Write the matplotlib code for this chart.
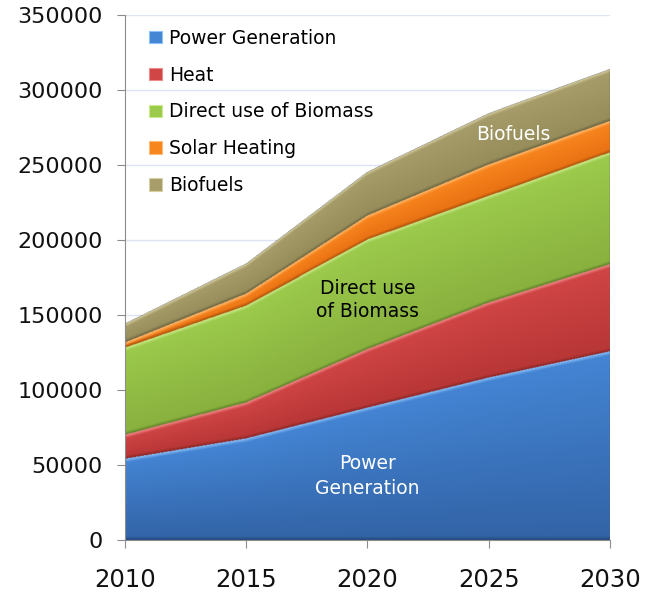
import numpy as np
import matplotlib
matplotlib.use("Agg")
import matplotlib.pyplot as plt
from matplotlib.patches import Patch
from matplotlib.colors import to_rgb

# data (stacked values)
years = [2010, 2015, 2020, 2025, 2030]
power = [54000, 67500, 88000, 108000, 125500]
heat = [16000, 24000, 39000, 50000, 58000]
direct = [58000, 64500, 73000, 71000, 74500]
solar = [3500, 8000, 16000, 21000, 21000]
biofuels = [12500, 20000, 29000, 34000, 34500]

labels = ["Power Generation", "Heat", "Direct use of Biomass",
          "Solar Heating", "Biofuels"]
series = [power, heat, direct, solar, biofuels]
top_cols = ["#4485d4", "#d04545", "#9ccb4c", "#f8861e", "#a69d6a"]
bot_cols = ["#3263a6", "#b83636", "#88b03e", "#e87012", "#958c5a"]
light_cols = ["#8cc0f8", "#f08a8a", "#cdeb8e", "#ffbb70", "#d8cfa2"]
dark_cols = ["#254a80", "#8a2626", "#5f7f28", "#a9520a", "#6a6340"]

fig = plt.figure(figsize=(6.46, 5.99), dpi=100)
ax = fig.add_axes([0.1935, 0.0985, 0.7505, 0.8765])

x = np.array(years, dtype=float)
stack = np.cumsum(np.array(series, dtype=float), axis=0)
lows = np.vstack([np.zeros(len(years)), stack[:-1]])

# shaded raster of the stacked bands (bevel look)
nx, ny = 800, 800
gx = np.linspace(2010, 2030, nx)
gy = np.linspace(0, 350000, ny)
X, Y = np.meshgrid(gx, gy)
img = np.zeros((ny, nx, 4))
edge = 2600.0
for i in range(len(series)):
    lo = np.interp(gx, x, lows[i])[None, :]
    hi = np.interp(gx, x, stack[i])[None, :]
    inside = (Y >= lo) & (Y < hi)
    t = np.clip((Y - lo) / (hi - lo), 0, 1)
    c = (np.array(to_rgb(bot_cols[i]))[None, None, :] * (1 - t[..., None])
         + np.array(to_rgb(top_cols[i]))[None, None, :] * t[..., None])
    dt = np.clip((hi - Y) / edge, 0, 1)[..., None]
    c = c * dt + np.array(to_rgb(light_cols[i])) * (1 - dt)
    db = np.clip((Y - lo) / (edge * 0.9), 0, 1)[..., None]
    c = c * db + np.array(to_rgb(dark_cols[i])) * (1 - db)
    img[inside, :3] = c[inside]
    img[inside, 3] = 1.0
ax.imshow(img, origin="lower", extent=[2010, 2030, 0, 350000],
          aspect="auto", interpolation="bilinear", zorder=2)

# right edge
ax.plot([2030, 2030], [0, stack[-1][-1]], color="#666666", lw=1.0, zorder=4)

ax.set_xlim(2010, 2030)
ax.set_ylim(0, 350000)
ax.set_xticks(years)
ax.set_yticks(np.arange(0, 350001, 50000))
ax.set_yticklabels([str(v) for v in range(0, 350001, 50000)])
ax.grid(axis="y", color="#dde3f3", lw=1.0, zorder=0)
ax.set_axisbelow(True)

for s in ["top", "right"]:
    ax.spines[s].set_visible(False)
for s in ["left", "bottom"]:
    ax.spines[s].set_color("#8c8c8c")
ax.tick_params(axis="y", direction="out", length=6, color="#8c8c8c",
               labelsize=16, pad=10, labelcolor="#111111")
ax.tick_params(axis="x", direction="out", length=6, color="#8c8c8c",
               labelsize=17.5, pad=14, labelcolor="#111111")

handles = [Patch(facecolor=c, edgecolor=lc, lw=0.8)
           for c, lc in zip(top_cols, light_cols)]
ax.legend(handles, labels, loc="upper left", bbox_to_anchor=(0.035, 0.988),
          frameon=False, fontsize=13.5, handlelength=0.65, handleheight=0.65,
          handletextpad=0.4, labelspacing=0.95, borderaxespad=0)

ax.text(2020, 42700, "Power\nGeneration", color="white", fontsize=13.5,
        ha="center", va="center", zorder=5, linespacing=1.45)
ax.text(2020, 160000, "Direct use\nof Biomass", color="black", fontsize=13.5,
        ha="center", va="center", zorder=5, linespacing=1.3)
ax.text(2026, 270000, "Biofuels", color="white", fontsize=13.5,
        ha="center", va="center", zorder=5)

fig.savefig("out.png", dpi=100)
